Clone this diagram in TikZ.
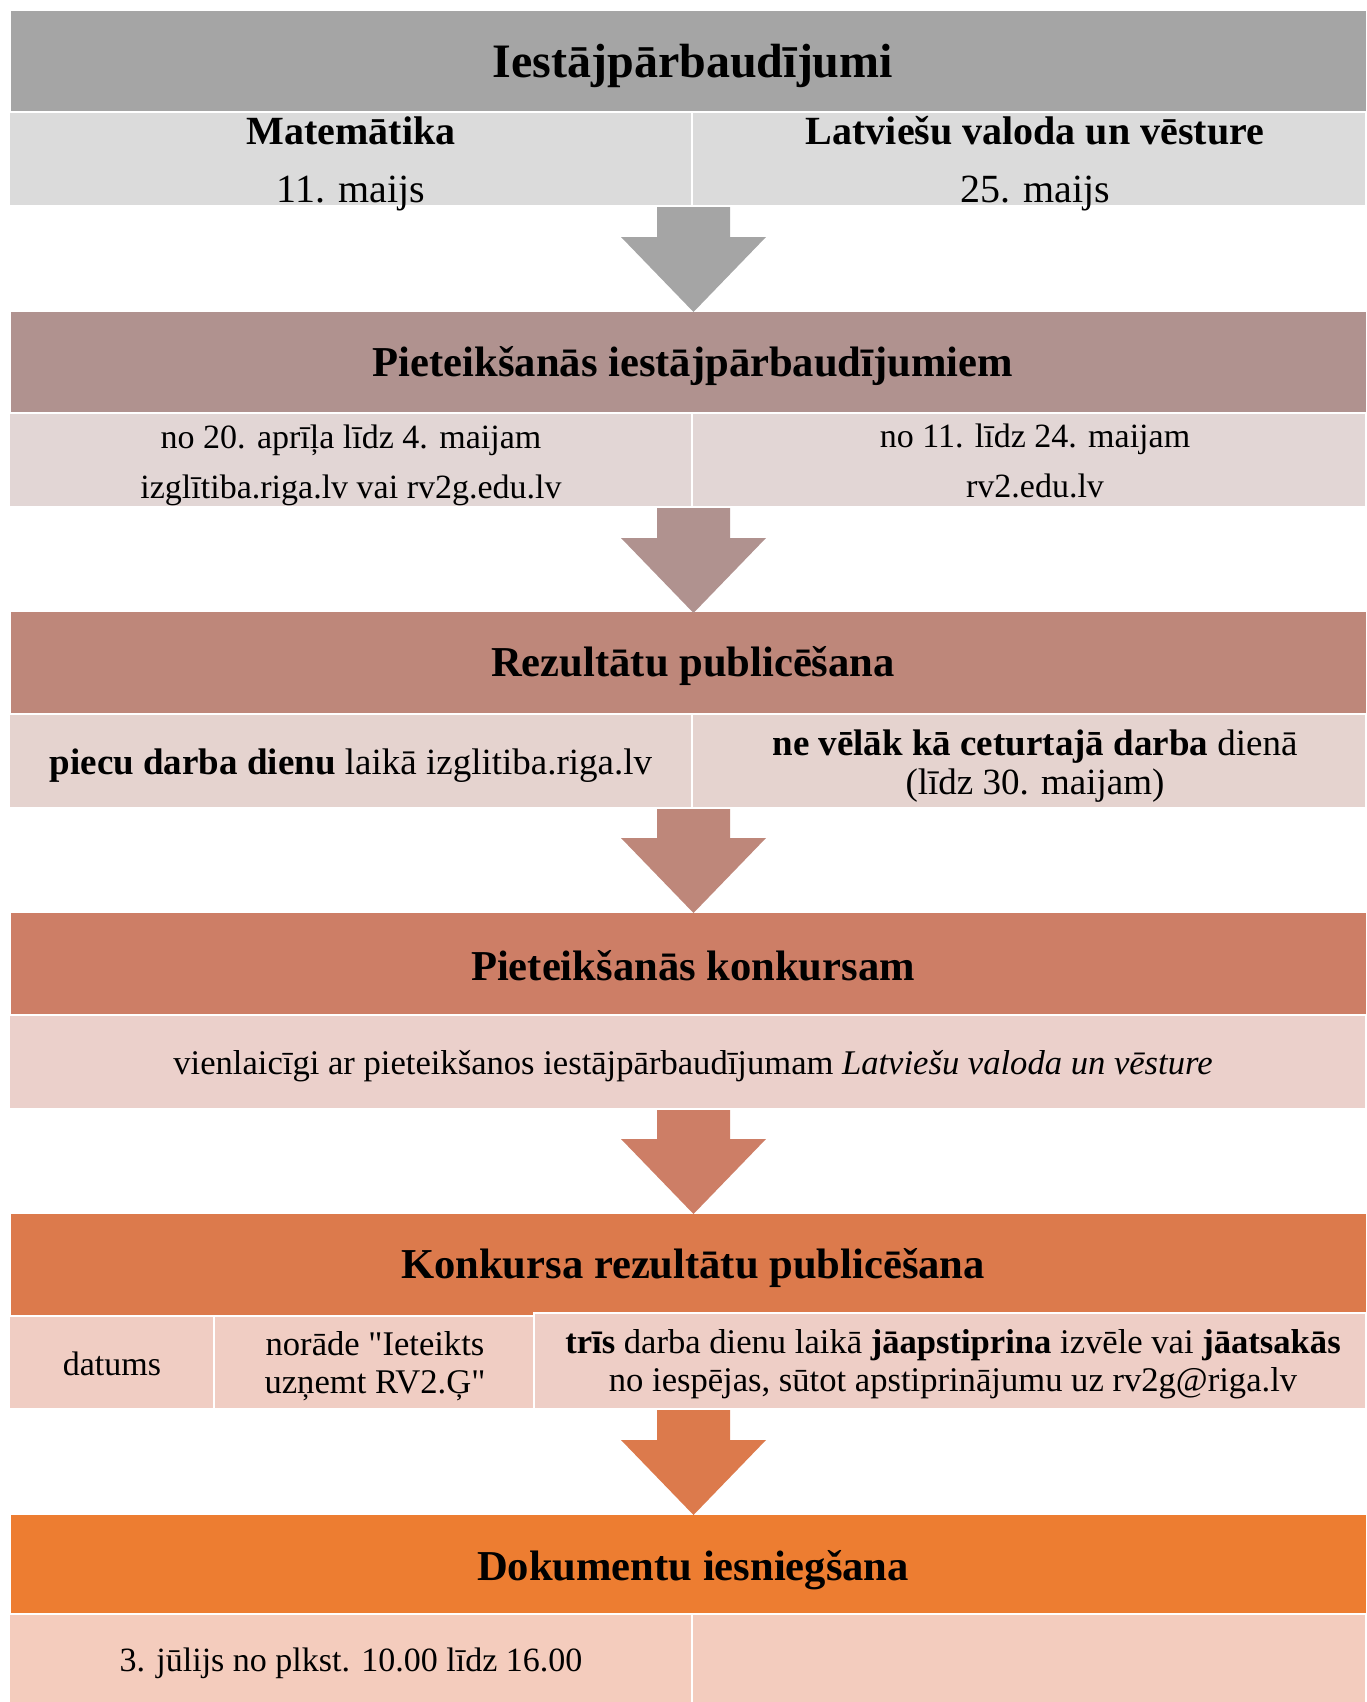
\documentclass[tikz,border=0pt]{standalone}
\usepackage{fontspec}
\setmainfont{Liberation Serif}[Ligatures=TeXOff]
\usepackage{tikz}
\usetikzlibrary{positioning}
\definecolor{hdA}{HTML}{A5A5A5}
\definecolor{subA}{HTML}{DBDBDB}
\definecolor{hdB}{HTML}{B0928F}
\definecolor{subB}{HTML}{E2D6D5}
\definecolor{hdC}{HTML}{BE877A}
\definecolor{subC}{HTML}{E5D3CF}
\definecolor{hdD}{HTML}{CD7E66}
\definecolor{subD}{HTML}{EBD0CB}
\definecolor{hdE}{HTML}{DC7A4C}
\definecolor{subE}{HTML}{EECEC6}
\definecolor{hdF}{HTML}{ED7D31}
\definecolor{subF}{HTML}{F4CCBD}
\tikzstyle{cell}=[draw=white, line width=.8pt]
\tikzstyle{title}=[font=\fontsize{21.3}{26}\selectfont\bfseries]
\tikzstyle{big}=[align=center, font=\fontsize{20}{29}\selectfont]
\tikzstyle{txt}=[align=center, font=\fontsize{17}{25}\selectfont]
\tikzstyle{tight}=[align=center, font=\fontsize{17.3}{19}\selectfont]

\begin{document}
\begin{tikzpicture}[x=.5pt, y=-.5pt]
    \useasboundingbox (0,0) rectangle (1366,1702);

    % header bars and the block arrows below them
    \foreach \y/\c in {11/hdA, 312/hdB, 612/hdC, 913/hdD, 1214/hdE, 1515/hdF}{
      \fill[\c] (11,\y) rectangle (1366,\y+101);
    }
    \foreach \y/\c in {11/hdA, 312/hdB, 612/hdC, 913/hdD, 1214/hdE}{
      \fill[\c] (657,\y+195) -- (730,\y+195) -- (730,\y+226) -- (766,\y+226)
        -- (693.5,\y+301) -- (621,\y+226) -- (657,\y+226) -- cycle;
    }

    % sub rows
    \draw[cell, fill=subA] (9,112) rectangle (692,206);
    \draw[cell, fill=subA] (692,112) rectangle (1366,206);
    \draw[cell, fill=subB] (9,413) rectangle (692,507);
    \draw[cell, fill=subB] (692,413) rectangle (1366,507);
    \draw[cell, fill=subC] (9,714) rectangle (692,808);
    \draw[cell, fill=subC] (692,714) rectangle (1366,808);
    \draw[cell, fill=subD] (9,1015) rectangle (1366,1109);
    \draw[cell, fill=subE!70!subF] (9,1316) rectangle (214,1409);
    \draw[cell, fill=subE!70!subF] (214,1316) rectangle (534,1409);
    \draw[cell, fill=subE] (534,1313) rectangle (1366,1409);
    \draw[cell, fill=subF] (9,1614) rectangle (692,1710);
    \draw[cell, fill=subF!90!subE] (692,1614) rectangle (1366,1710);

    % texts
    \node[title, font=\fontsize{24}{28}\selectfont\bfseries] (h1) at (693,66) {Iestājpārbaudījumi};
    \node[big] (mat) at (351,164) {\textbf{Matemātika}\\11. maijs};
    \node[big] (lat) at (1035,164) {\textbf{Latviešu valoda un vēsture}\\25. maijs};

    \node[title] (h2) at (693,366) {Pieteikšanās iestājpārbaudījumiem};
    \node[txt] (pm) at (351,465) {no 20. aprīļa līdz 4. maijam\\izglītiba.riga.lv vai rv2g.edu.lv};
    \node[txt] (pl) at (1035,461) {no 11. līdz 24. maijam\\rv2.edu.lv};

    \node[title] (h3) at (693,666) {Rezultātu publicēšana};
    \node[tight, font=\fontsize{18.5}{19.5}\selectfont] (rm) at (351,766) {\textbf{piecu darba dienu} laikā izglitiba.riga.lv};
    \node[tight, font=\fontsize{18.5}{19.5}\selectfont] (rl) at (1035,766) {\textbf{ne vēlāk kā ceturtajā darba} dienā\\(līdz 30. maijam)};

    \node[title] (h4) at (693,966) {Pieteikšanās konkursam};
    \node[txt, font=\fontsize{17.3}{25}\selectfont] (kv) at (693,1066) {vienlaicīgi ar pieteikšanos iestājpārbaudījumam \textit{Latviešu valoda un vēsture}};

    \node[title] (h5) at (693,1268) {Konkursa rezultātu publicēšana};
    \node[txt] (dat) at (112,1364) {datums};
    \node[tight] (nor) at (375,1366) {norāde "Ieteikts\\uzņemt RV2.Ģ"};
    \node[tight] (tri) at (953,1364) {\textbf{trīs} darba dienu laikā \textbf{jāapstiprina} izvēle vai \textbf{jāatsakās}\\no iespējas, sūtot apstiprinājumu uz rv2g@riga.lv};

    \node[title] (h6) at (693,1570) {Dokumentu iesniegšana};
    \node[txt] (dok) at (351,1663) {3. jūlijs no plkst. 10.00 līdz 16.00};

\end{tikzpicture}
\end{document}
